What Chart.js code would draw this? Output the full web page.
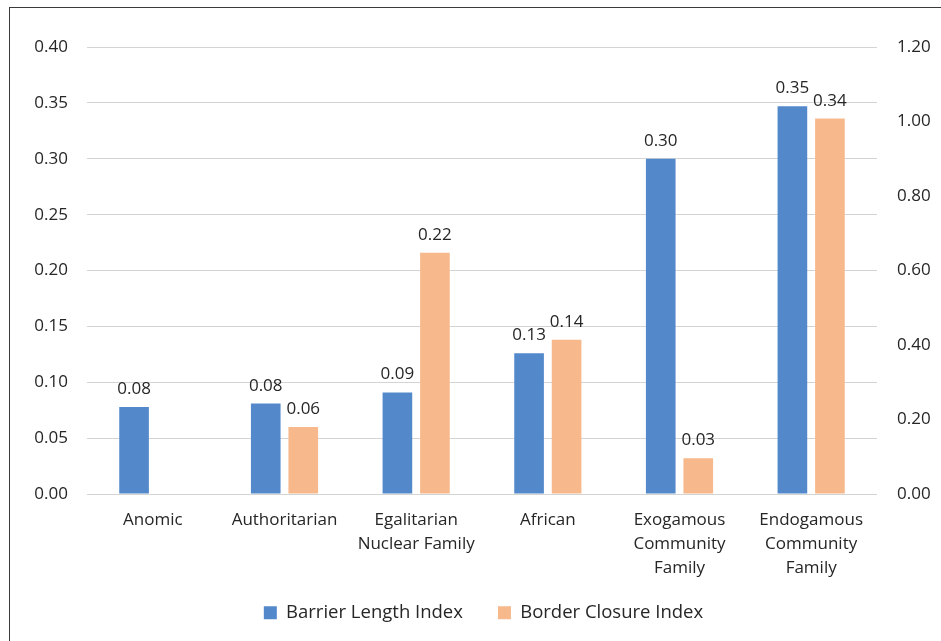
<!DOCTYPE html>
<html>
<head>
<meta charset="utf-8">
<script src="https://cdn.jsdelivr.net/npm/chart.js@4"></script>
<style>
    html, body { margin: 0; padding: 0; background: #ffffff; }
    #wrap { position: relative; width: 941px; height: 641px; overflow: hidden; }
    #frame {
        position: absolute; left: 9px; top: 7px; width: 1000px; height: 700px;
        border: 1px solid #3a3a3a; pointer-events: none;
    }
</style>
</head>
<body>
<div id="wrap">
    <canvas id="barChart"></canvas>
    <div id="frame"></div>
</div>
<script>
// Categorias e valores
const categories = [
    'Anomic',
    'Authoritarian',
    ['Egalitarian', 'Nuclear Family'],
    'African',
    ['Exogamous', 'Community', 'Family'],
    ['Endogamous', 'Community', 'Family']
];
const barrierLength = [0.078, 0.081, 0.091, 0.126, 0.300, 0.347];
const borderClosure = [null, 0.060, 0.216, 0.138, 0.032, 0.336];
const leftTicks = { min: 0, max: 0.40, step: 0.05 };
const rightTicks = { min: 0, max: 1.20, step: 0.20 };

const FONT = '"Open Sans", "Noto Sans", sans-serif';
const TEXT_COLOR = '#262626';
const X_SHRINK = 17.5;

// Rótulos de valor acima de cada barra
const valueLabels = {
    id: 'valueLabels',
    afterLayout(chart) {
        // o eixo x foi encolhido para aproximar a legenda; não cortar os rótulos
        chart.scales.x.bottom += X_SHRINK + 10;
    },
    afterDatasetsDraw(chart) {
        const ctx = chart.ctx;
        ctx.save();
        ctx.font = `17px ${FONT}`;
        ctx.fillStyle = TEXT_COLOR;
        ctx.textAlign = 'center';
        ctx.textBaseline = 'alphabetic';
        chart.data.datasets.forEach((ds, i) => {
            const meta = chart.getDatasetMeta(i);
            meta.data.forEach((bar, j) => {
                const v = ds.data[j];
                if (v === null || v === undefined) return;
                ctx.fillText(v.toFixed(2), bar.x, bar.y - 13);
            });
        });
        ctx.restore();
    }
};

const canvas = document.getElementById('barChart');
new Chart(canvas.getContext('2d'), {
    type: 'bar',
    data: {
        labels: categories,
        datasets: [
            {
                label: 'Barrier Length Index',
                data: barrierLength,
                backgroundColor: '#5389CB',
                yAxisID: 'y',
                categoryPercentage: 0.57,
                barPercentage: 0.79
            },
            {
                label: 'Border Closure Index',
                data: borderClosure,
                backgroundColor: '#F7B98B',
                yAxisID: 'y',
                categoryPercentage: 0.57,
                barPercentage: 0.79
            }
        ]
    },
    options: {
        responsive: true,
        maintainAspectRatio: false,
        animation: false,
        devicePixelRatio: 1,
        layout: { padding: { left: 26, right: 0, top: 47, bottom: 9 } },
        plugins: {
            legend: {
                position: 'bottom',
                labels: {
                    color: TEXT_COLOR,
                    font: { family: FONT, size: 18.5 },
                    boxWidth: 13,
                    boxHeight: 13,
                    padding: 35
                }
            },
            tooltip: { enabled: false }
        },
        scales: {
            x: {
                grid: { display: false },
                border: { display: false },
                ticks: {
                    color: TEXT_COLOR,
                    font: { family: FONT, size: 17, lineHeight: 1.41 },
                    padding: 6,
                    maxRotation: 0,
                    autoSkip: false
                },
                afterFit: scale => { scale.height -= X_SHRINK; }
            },
            y: {
                position: 'left',
                min: leftTicks.min,
                max: leftTicks.max,
                grid: { color: '#D4D4D4', lineWidth: 1, drawTicks: false },
                border: { display: false },
                ticks: {
                    stepSize: leftTicks.step,
                    color: TEXT_COLOR,
                    font: { family: FONT, size: 17 },
                    padding: 19,
                    callback: value => Number(value).toFixed(2)
                },
                afterFit: scale => { scale.width = 61; }
            },
            y1: {
                position: 'right',
                min: rightTicks.min,
                max: rightTicks.max,
                grid: { display: false, drawTicks: false },
                border: { display: false },
                ticks: {
                    stepSize: rightTicks.step,
                    color: TEXT_COLOR,
                    font: { family: FONT, size: 17 },
                    padding: 20,
                    callback: value => Number(value).toFixed(2)
                },
                afterFit: scale => { scale.width = 64; }
            }
        }
    },
    plugins: [valueLabels]
});
</script>
</body>
</html>
